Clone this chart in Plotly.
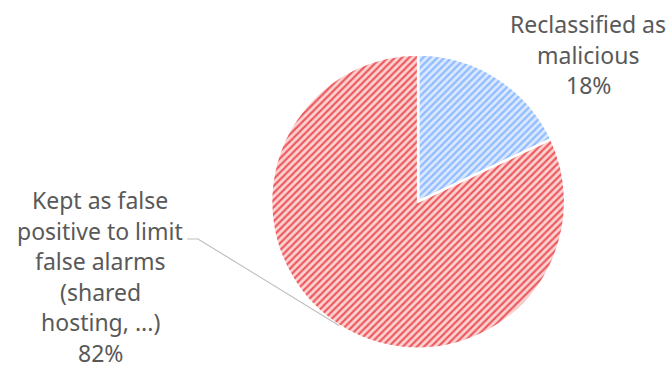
import math
import plotly.graph_objects as go

# Outcome of the false-positive review
labels = ["Reclassified as<br>malicious", "Kept as false<br>positive to limit<br>false alarms<br>(shared<br>hosting, ...)"]
shares = [18, 82]

W, H = 669, 369
dom_x = [0.405, 0.845]
dom_y = [0.055, 0.852]

fig = go.Figure(go.Pie(
    labels=labels,
    values=shares,
    sort=False,
    direction="clockwise",
    rotation=0,
    textinfo="none",
    hoverinfo="label+percent",
    showlegend=False,
    domain=dict(x=dom_x, y=dom_y),
    marker=dict(
        colors=["#dbe8ff", "#fbd3d3"],
        line=dict(color="white", width=2.5),
        pattern=dict(
            shape=["/", "/"],
            fgcolor=["#8fbcff", "#ee5a5e"],
            bgcolor=["#dbe8ff", "#fbd3d3"],
            size=5,
            solidity=0.45,
        ),
    ),
))

# pie geometry in pixels, to place labels and the leader line
cx = (dom_x[0] + dom_x[1]) / 2 * W
cy = (1 - (dom_y[0] + dom_y[1]) / 2) * H
r = min((dom_x[1] - dom_x[0]) * W, (dom_y[1] - dom_y[0]) * H) / 2

total = sum(shares)
font = dict(family="Noto Sans, Open Sans, sans-serif", size=23, color="#595959")
LINE_GAP = 30.6  # px between label lines


def add_label(text, x_px, y_top_px):
    """Write a multi-line label one line at a time, centred on x_px."""
    for i, line in enumerate(text.split("<br>")):
        fig.add_annotation(
            x=x_px / W, y=1 - (y_top_px + i * LINE_GAP) / H,
            xref="paper", yref="paper", text=line, showarrow=False,
            font=font, xanchor="center", yanchor="middle", borderpad=0,
        )


# small slice, upper right
add_label(f"{labels[0]}<br>{shares[0]}%", 588, 24)
# large slice, left
add_label(f"{labels[1]}<br>{shares[1]}%", 100, 200)

# leader line from the left label to the middle of the large slice's arc
start = shares[0] / total * 360
mid = math.radians(start + shares[1] / total * 360 / 2)
px_, py_ = cx + r * math.sin(mid), cy - r * math.cos(mid)
fig.add_shape(
    type="path", xref="paper", yref="paper",
    path=f"M {187 / W},{1 - 239 / H} L {198 / W},{1 - 239 / H} L {px_ / W},{1 - py_ / H}",
    line=dict(color="#bfbfbf", width=1.2),
)

fig.update_layout(
    width=W, height=H,
    margin=dict(l=0, r=0, t=0, b=0),
    paper_bgcolor="white",
    plot_bgcolor="white",
)

fig.write_html("out.html")
